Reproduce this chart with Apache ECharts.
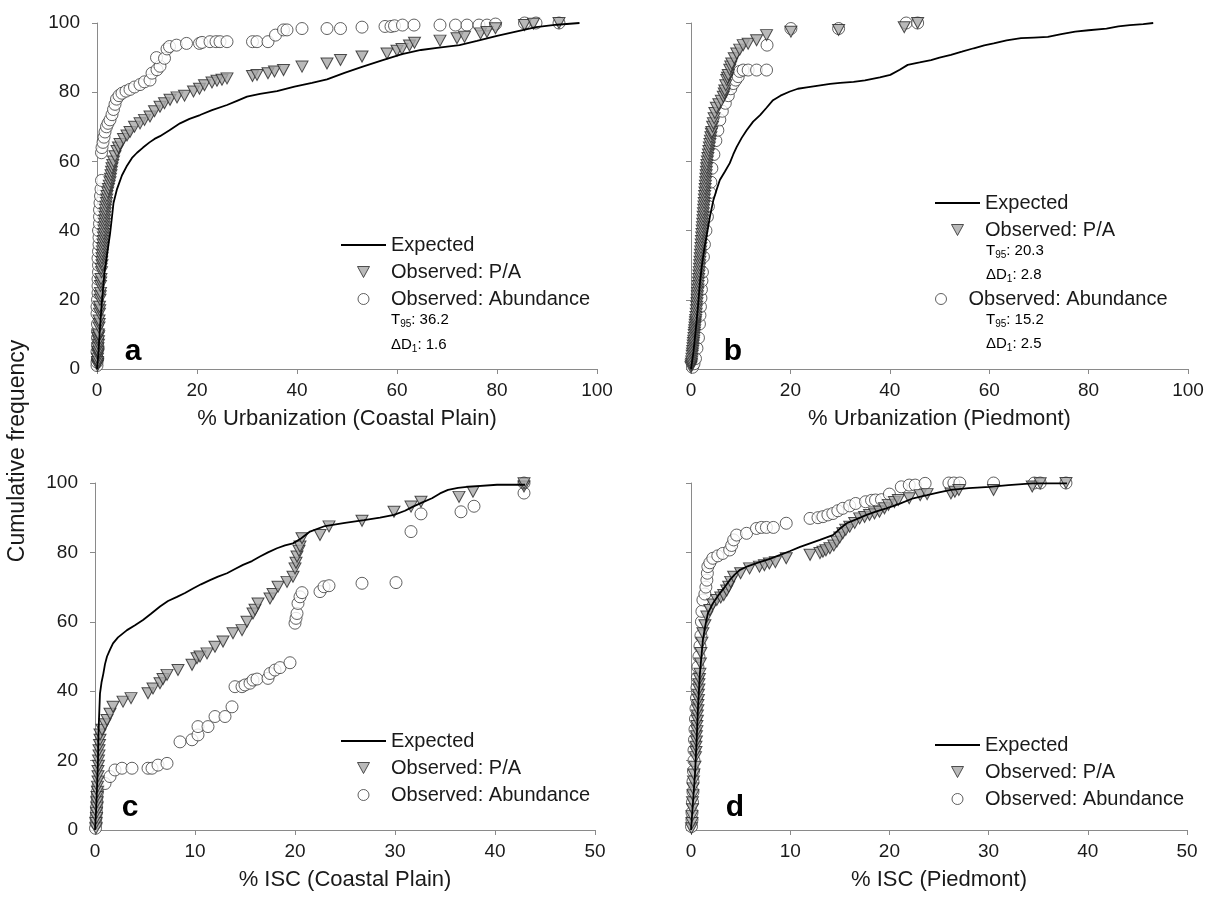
<!DOCTYPE html>
<html>
<head>
<meta charset="utf-8">
<script src="https://cdn.jsdelivr.net/npm/echarts@6/dist/echarts.min.js"></script>
<style>
  html, body { margin: 0; padding: 0; background: #fff; }
  #chart { width: 1211px; height: 902px; }
</style>
</head>
<body>
<div id="chart"></div>
<script>
// panel a: % Urbanization (Coastal Plain)
const expectedA = [[0,0],[0.3,5],[0.6,12],[0.9,18],[1.2,23],[1.5,28],[1.9,32],[2.3,36],[2.6,39],[3.0,44],[3.3,48],[4,52],[5,56],[5.9,58.5],[7,61],[8,62.5],[9.2,64],[10.5,65.5],[11.5,66.5],[12.6,67.3],[14.5,69],[16.6,71],[18.5,72.3],[20.6,73.4],[23,74.8],[26,76.3],[28,77.5],[30,78.7],[32.6,79.5],[36,80.3],[39.5,81.6],[43,82.7],[46,83.7],[49.5,85.6],[53,87.3],[57,89.2],[61,91],[64.8,92.2],[68,92.8],[72.5,93.6],[76,94.8],[80,96.3],[84,97.6],[87.8,98.8],[92,99.5],[96.5,100]];
const paA = [[0.1,1],[0.15,1.5],[0.1,2],[0.1,3],[0.2,4],[0.25,4.5],[0.2,5],[0.2,6],[0.3,7],[0.3,8],[0.2,9],[0.35,9.5],[0.3,10],[0.4,12],[0.45,13],[0.4,14],[0.5,16],[0.55,17],[0.5,18],[0.6,20],[0.65,21],[0.7,22],[0.7,24],[0.75,25],[0.8,26],[0.9,28],[0.85,29],[1.0,30],[0.95,31],[1.0,32],[1.05,33],[1.1,34],[1.15,35],[1.2,36],[1.25,37],[1.3,38],[1.35,39],[1.4,40],[1.45,41],[1.5,42],[1.55,43],[1.6,44],[1.65,45],[1.7,46],[1.8,47],[1.9,48],[1.95,49],[2.0,50],[2.15,51],[2.3,52],[2.45,53],[2.6,54],[2.7,55],[2.8,56],[2.9,57],[3.0,58],[3.15,59],[3.3,60],[3.6,61.5],[4.0,63],[4.3,64],[4.6,65],[5.3,66.5],[6.0,67.5],[6.6,68.5],[7.5,70],[8.6,71],[9.5,72],[10.6,73],[11.5,74.5],[12.6,75.8],[13.5,76.8],[14.6,77.8],[16,78.5],[17.5,79],[19.3,80.2],[20.5,81],[21.5,82],[23,82.8],[24,83.3],[25,83.6],[26,84],[31.1,84.7],[32,85],[34.2,85.5],[35.5,86],[37.3,86.4],[41,87.4],[46,88.3],[48.7,89.3],[53,90.3],[58,91.2],[60,92],[61,92.5],[62.5,93.5],[63.5,94.3],[68.6,94.9],[72,95.6],[73.5,96],[76.7,97],[78,97.4],[79.7,98.5],[85.5,99.4],[87.3,99.8],[92.4,100]];
const abA = [[0,1],[0,2],[0.1,3],[0,5],[0.1,7],[0.1,9],[0.1,11],[0.1,13],[0,16],[0,18],[0.1,20],[0.2,22],[0.2,24],[0.2,26],[0.3,28],[0.3,30],[0.2,32],[0.3,34],[0.4,36],[0.4,38],[0.3,40],[0.5,42],[0.5,44],[0.5,46],[0.6,48],[0.7,50],[0.8,52],[0.9,54.5],[0.9,62.5],[1.0,64],[1.2,65.5],[1.4,67],[1.6,68.5],[1.9,70],[2.2,71],[2.6,72],[3.0,73.5],[3.3,75],[3.6,76.5],[3.9,78],[4.4,79],[5.0,79.7],[5.8,80.3],[6.6,80.8],[7.5,81.5],[8.6,82.2],[9.5,83],[10.6,83.5],[11,85.5],[12,86.5],[12.6,87.5],[11.9,90],[13.5,89.8],[14,92.5],[14.5,93.2],[15.9,93.6],[17.9,94.1],[20.5,94.1],[21,94.4],[22.6,94.6],[23.8,94.6],[24.6,94.6],[26,94.6],[31.1,94.6],[32,94.6],[34.2,94.6],[35.7,96.5],[37.3,98],[38,98],[41,98.4],[46,98.4],[48.7,98.4],[53,98.8],[57.6,99],[58.8,99],[59.5,99.2],[61.1,99.4],[63.4,99.4],[68.6,99.4],[71.7,99.4],[74,99.4],[76.4,99.4],[78,99.4],[79.7,99.7],[85.5,100],[87.8,100],[92.4,100]];

// panel b: % Urbanization (Piedmont)
const expectedB = [[0,0],[0.5,5],[1,12],[1.4,18],[1.8,25],[2.2,30],[2.7,35],[3.2,39],[3.8,44],[4.5,48.8],[5.2,52],[5.8,54.6],[6.8,57],[7.8,59.5],[8.5,62],[9.2,64.2],[10.2,66.8],[11.2,69],[12.5,71.5],[13.9,73.4],[15.2,75.5],[16.5,77.7],[18,79],[19.9,80.2],[21.5,81],[23.3,81.4],[26,82],[28,82.4],[30,82.7],[32.7,83],[35,83.4],[38,84.3],[40.1,85],[42,86.5],[43.6,87.9],[46,88.6],[48.3,89.3],[50,90],[52.3,90.8],[54.5,91.7],[56.9,92.7],[59,93.5],[60.9,94.1],[63.5,95],[66.4,95.6],[69,95.8],[71.8,96],[74.5,96.8],[77.3,97.5],[80,97.9],[83.6,98.4],[86,99],[88.3,99.4],[91,99.7],[93,100]];
const paB = [[0,0.5],[0.05,1],[0.1,1.5],[0.15,2.2],[0.2,3],[0.25,3.8],[0.3,4.5],[0.35,5.2],[0.4,6],[0.45,6.8],[0.5,7.5],[0.55,8.2],[0.6,9],[0.65,9.8],[0.7,10.5],[0.75,11.2],[0.8,12],[0.85,12.8],[0.9,13.5],[0.95,14.2],[1.0,15],[1.05,16],[1.1,17],[1.15,18],[1.2,19],[1.25,20],[1.3,21],[1.35,22],[1.4,23],[1.45,24],[1.5,25],[1.55,26],[1.6,27],[1.65,28],[1.7,29],[1.75,30],[1.8,31],[1.85,32],[1.9,33],[1.95,34],[2.0,35],[2.05,36],[2.1,37],[2.15,38],[2.2,39],[2.25,40],[2.3,41],[2.35,42],[2.4,43],[2.45,44],[2.5,45],[2.55,46],[2.6,47],[2.65,48],[2.7,49],[2.75,50],[2.8,51],[2.85,52],[2.9,53],[2.95,54],[3.0,55],[3.05,56],[3.1,57],[3.15,58],[3.2,59],[3.3,60],[3.4,61],[3.5,62],[3.6,63],[3.7,64],[3.8,65],[3.9,66],[4.0,67],[4.1,68],[4.2,68.5],[4.35,70],[4.5,71],[4.65,72.5],[4.8,74],[5.1,75.5],[5.6,76.5],[6.1,77.5],[6.5,78.7],[6.7,79.6],[6.8,80.5],[7.0,82],[7.2,83.5],[7.35,84.2],[7.5,85],[7.8,86.5],[8.0,87.4],[8.2,88.3],[8.7,89.8],[9.2,91.2],[9.8,92.3],[10.5,93.6],[11.5,94],[13.2,95],[15.2,96.5],[20.1,97.5],[29.7,98],[42.9,98.8],[45.6,100]];
const abB = [[0.3,0.5],[0.6,1.5],[0.9,3],[1.2,6],[1.5,9],[1.7,13],[1.8,15.5],[1.9,18],[2.0,20.5],[2.1,23],[2.2,25.5],[2.3,28],[2.5,32.4],[2.7,36],[3.0,40],[3.3,44],[3.5,47],[3.8,51],[4.0,54],[4.2,58],[4.6,62],[5.0,66],[5.4,69],[5.8,72],[6.3,74.5],[6.9,76.8],[7.5,79],[8.0,81],[8.5,82.5],[9.0,83.5],[9.5,84.5],[9.8,86],[10.5,86.4],[11.5,86.4],[13.2,86.4],[15.2,86.4],[15.3,93.6],[20.1,98.4],[29.7,98.4],[43.3,100],[45.6,100]];

// panel c: % ISC (Coastal Plain)
const expectedC = [[0,0],[0.1,5],[0.2,12],[0.3,20],[0.33,26],[0.4,32],[0.5,39.4],[0.65,42.5],[0.83,45],[1.0,47.8],[1.2,50],[1.5,52],[1.8,53.8],[2.3,55.5],[3.2,57.6],[4,59],[4.8,60.5],[5.6,62.3],[6.5,64.4],[7.3,66],[8.2,67.2],[9,68.3],[9.8,69.6],[10.6,70.8],[11.5,72],[12.3,73],[13.2,74],[14,75.2],[14.8,76.4],[15.7,77.5],[16.5,78.8],[17.3,80],[18.2,81.2],[19,82],[19.8,82.6],[20.6,84],[21.5,86],[23,87.6],[25,88.5],[26.9,89.3],[28.5,90],[29.9,90.8],[31,92],[31.8,93.2],[32.8,94.5],[33.7,95.6],[34.5,97],[35.3,98],[36.3,98.6],[37.2,98.9],[40.2,99.5],[43,99.5]];
const paC = [[0.1,0.5],[0.1,2],[0.15,3.5],[0.15,5],[0.2,6.5],[0.2,8],[0.2,9.5],[0.25,11],[0.25,12.5],[0.3,14],[0.3,15.5],[0.3,17],[0.35,18.5],[0.35,20],[0.4,21.5],[0.4,23],[0.45,24.5],[0.5,26],[0.5,27.5],[0.7,28.9],[1.0,30.5],[1.2,31.7],[1.5,33.5],[1.8,35.5],[2.8,37],[3.6,38],[5.3,39.4],[5.8,40.8],[6.5,42.3],[6.8,43.5],[7.2,44.7],[8.3,46.1],[9.7,47.6],[10.2,49.5],[10.5,50],[11.2,50.9],[12,52.8],[12.8,54.3],[13.8,56.7],[14.7,57.6],[15.2,60],[15.8,62.4],[16.0,63.5],[16.3,65.3],[17.5,66.7],[17.8,68],[18.3,70.1],[19.2,71.5],[19.8,73],[20,75.4],[20.1,77],[20.2,78.8],[20.4,80.5],[20.5,81.7],[20.7,84.1],[22.5,85],[23.4,87.5],[26.7,89.1],[29.9,91.7],[31.6,93.2],[32.6,94.6],[36.4,96],[37.8,97.5],[42.9,99],[42.9,99.9]];
const abC = [[0.05,0.5],[0.1,2],[0.1,3.5],[0.15,5],[0.15,6.5],[0.2,8],[0.2,9.5],[0.25,11],[0.3,12.5],[1,13.4],[1.5,15.4],[2,17.3],[2.7,17.8],[3.7,17.8],[5.3,17.8],[5.7,17.8],[6.3,18.7],[7.2,19.2],[8.5,25.4],[9.7,26],[10.3,27.4],[10.3,29.8],[11.3,29.8],[12,32.7],[13,32.7],[13.7,35.5],[14,41.3],[14.7,41.3],[15,41.8],[15.5,42.3],[15.8,43.2],[16.2,43.5],[17.3,43.7],[17.5,45.1],[18,46.1],[18.5,46.8],[19.5,48.2],[20,59.6],[20.1,61],[20.2,62.4],[20.3,65.3],[20.5,67.2],[20.7,68.4],[22.5,68.7],[22.9,70.1],[23.4,70.4],[26.7,71.1],[30.1,71.3],[31.6,86],[32.6,91.1],[36.6,91.7],[37.9,93.3],[42.9,97.1],[42.9,100]];

// panel d: % ISC (Piedmont)
const expectedD = [[0,0],[0.2,8],[0.4,16],[0.57,25.9],[0.7,35],[0.9,45.2],[1.05,50],[1.2,54.8],[1.45,59],[1.7,62.4],[2.2,65.3],[2.9,68.2],[3.4,70],[3.9,72],[4.4,73.6],[4.9,74.9],[5.7,76],[6.6,76.9],[7.8,78],[9,79.3],[10,80.4],[11,81.6],[12,82.6],[13,83.6],[14.3,85],[15,86.8],[15.7,88.4],[16.7,89.6],[17.7,90.8],[18.7,91.8],[19.7,92.7],[21,94],[22.4,95.6],[23.8,96.5],[25,97.3],[26.2,98],[28,98.5],[30.1,98.9],[32,99.4],[34.4,99.9],[37.9,99.9]];
const paD = [[0.05,0.5],[0.1,2],[0.1,4],[0.15,6],[0.15,8],[0.2,10],[0.2,12],[0.25,14],[0.3,16],[0.4,18.2],[0.45,21],[0.5,22.5],[0.5,24],[0.55,25.5],[0.55,27],[0.6,28.5],[0.6,30],[0.65,31.5],[0.65,33],[0.7,34.5],[0.7,36],[0.75,37.5],[0.75,39],[0.8,40.5],[0.8,42],[0.85,43.5],[0.9,45],[0.95,48],[1.0,51],[1.1,54],[1.2,56.7],[1.4,59],[1.6,61.5],[1.9,63.4],[2.2,65],[2.6,66.3],[3.0,67],[3.3,67.7],[3.6,69],[3.8,70.1],[4.0,71.5],[4.3,73],[5,74],[5.9,75.4],[6.9,75.9],[7.4,76.3],[7.9,76.8],[8.5,77.2],[9.6,78.3],[12,79.3],[13,79.8],[13.3,80.2],[13.6,80.6],[14,81.2],[14.4,82],[14.7,83.1],[15,84.3],[15.3,85.5],[15.6,86.5],[16,87.4],[16.5,88.5],[17,89.8],[17.5,90.2],[18,90.8],[18.5,91.2],[19,91.7],[19.5,92.7],[19.9,93.7],[20.5,94.5],[20.9,95.1],[22,95.6],[23.1,96.5],[23.8,96.8],[26.2,97],[26.6,97.5],[27,98],[30.5,98],[34.4,99],[35.2,99.9],[37.8,100]];
const abD = [[0.05,1],[0.1,3],[0.1,5],[0.15,8],[0.2,11],[0.2,14],[0.25,17],[0.3,20],[0.3,23],[0.35,26],[0.4,29],[0.45,32],[0.5,35],[0.55,38],[0.6,41],[0.65,44],[0.7,47],[0.8,50],[0.9,53],[1.0,56],[1.05,60],[1.1,63],[1.2,66.3],[1.4,68],[1.5,70],[1.6,72],[1.65,74],[1.7,75.9],[1.9,77],[2.2,78.3],[2.7,79],[3.2,79.7],[3.9,80.7],[4.1,82],[4.3,83.6],[4.6,85],[5.6,85.5],[6.6,86.9],[7.1,87.2],[7.6,87.2],[8.3,87.2],[9.6,88.4],[12,89.8],[12.8,90],[13.3,90.3],[13.8,90.8],[14.3,91.2],[14.8,92],[15.3,92.7],[16,93.4],[16.6,94.1],[17.6,94.6],[18.2,95],[18.6,95.1],[19.2,95.2],[20,96.8],[21.2,98.9],[22,99.4],[22.6,99.4],[23.6,99.9],[26,100],[26.5,100],[27.1,100],[30.5,100],[34.6,100],[35.2,100],[37.8,100]];

const xTitles = ['% Urbanization (Coastal Plain)', '% Urbanization (Piedmont)', '% ISC (Coastal Plain)', '% ISC (Piedmont)'];
const xMax = [100, 100, 50, 50];
const xStep = [20, 20, 10, 10];
const panelLetters = ['a', 'b', 'c', 'd'];
const seriesNames = ['Expected', 'Observed: P/A', 'Observed: Abundance'];

const panels = [
  { expected: expectedA, pa: paA, ab: abA },
  { expected: expectedB, pa: paB, ab: abB },
  { expected: expectedC, pa: paC, ab: abC },
  { expected: expectedD, pa: paD, ab: abD }
];

const FONT = 'Liberation Sans, Arial, sans-serif';
const TXT = '#1a1a1a';
const AX = '#8a8a8a';

const grids = [
  { left: 97, top: 23, width: 500, height: 346 },
  { left: 691, top: 23, width: 497, height: 346 },
  { left: 95, top: 483, width: 500, height: 347 },
  { left: 691, top: 483, width: 496, height: 347 }
];

let xAxes = [], yAxes = [], series = [];
panels.forEach((p, i) => {
  xAxes.push({
    gridIndex: i, type: 'value', min: 0, max: xMax[i], interval: xStep[i],
    name: xTitles[i], nameLocation: 'middle', nameGap: 39,
    nameTextStyle: { fontSize: 22, color: TXT, fontFamily: FONT },
    axisLine: { show: true, onZero: false, lineStyle: { color: AX, width: 1 } },
    axisTick: { show: true, length: 5, lineStyle: { color: AX } },
    axisLabel: { fontSize: 19, color: TXT, margin: 12, fontFamily: FONT },
    splitLine: { show: false }
  });
  yAxes.push({
    gridIndex: i, type: 'value', min: 0, max: 100, interval: 20,
    axisLine: { show: true, onZero: false, lineStyle: { color: AX, width: 1 } },
    axisTick: { show: true, length: 5, lineStyle: { color: AX } },
    axisLabel: { show: i % 2 === 0, fontSize: 19, color: TXT, margin: 17, fontFamily: FONT },
    splitLine: { show: false }
  });
  series.push({
    name: seriesNames[2], type: 'scatter', xAxisIndex: i, yAxisIndex: i, z: 2,
    symbol: 'circle', symbolSize: 12, data: p.ab,
    itemStyle: { color: '#ffffff', borderColor: '#3a3a3a', borderWidth: 1 }
  });
  series.push({
    name: seriesNames[1], type: 'scatter', xAxisIndex: i, yAxisIndex: i, z: 3,
    symbol: 'triangle', symbolRotate: 180, symbolSize: [12, 11], data: p.pa,
    itemStyle: { color: '#a8a8a8', borderColor: '#242424', borderWidth: 1 }
  });
  series.push({
    name: seriesNames[0], type: 'line', xAxisIndex: i, yAxisIndex: i, z: 4,
    symbol: 'none', showSymbol: false, data: p.expected,
    itemStyle: { color: '#000' },
    lineStyle: { color: '#000', width: 1.8 }
  });
});

// legend icons: plain line, down-pointing triangle, circle
const legendIcons = {
  'Expected': { icon: 'path://M0,0 L45,0 L45,2 L0,2 Z', itemStyle: { color: '#000', borderWidth: 0 } },
  'Observed: P/A': { icon: 'path://M0,0 L12,0 L6,11 Z', itemStyle: { color: '#a8a8a8', borderColor: '#2a2a2a', borderWidth: 1 } },
  'Observed: Abundance': { icon: 'circle', itemStyle: { color: '#ffffff', borderColor: '#3a3a3a', borderWidth: 1 } }
};
function legendAt(left, top, names) {
  return {
    left: left, top: top, orient: 'vertical', itemGap: 7,
    itemWidth: 45, itemHeight: 11, selectedMode: false, symbolKeepAspect: true,
    data: names.map(n => Object.assign({ name: n }, legendIcons[n])),
    textStyle: { fontSize: 20, color: TXT, fontFamily: FONT }
  };
}

const subRich = {
  n: { fontSize: 15, color: '#333', fontFamily: FONT, lineHeight: 20, verticalAlign: 'middle' },
  s: { fontSize: 10, color: '#333', fontFamily: FONT, lineHeight: 20, verticalAlign: 'bottom' }
};
function statText(x, y, label, sub, val) {
  return {
    type: 'text', left: x, top: y - 10,
    style: { text: '{n|' + label + '}{s|' + sub + '}{n|: ' + val + '}', rich: subRich }
  };
}

const letterPos = [[133, 352], [733, 352], [130, 808], [735, 808]];
const graphics = [
  {
    type: 'text', x: 18, y: 451, rotation: Math.PI / 2,
    style: { text: 'Cumulative frequency', fontSize: 23, fill: TXT, fontFamily: FONT, align: 'center', verticalAlign: 'middle' }
  },
  statText(391, 322, 'T', '95', '36.2'),
  statText(391, 347, 'ΔD', '1', '1.6'),
  statText(986, 253, 'T', '95', '20.3'),
  statText(986, 277, 'ΔD', '1', '2.8'),
  statText(986, 322, 'T', '95', '15.2'),
  statText(986, 346, 'ΔD', '1', '2.5')
];
panelLetters.forEach((l, i) => {
  graphics.push({
    type: 'text', x: letterPos[i][0], y: letterPos[i][1],
    style: { text: l, fontSize: 30, fontWeight: 'bold', fill: '#000', fontFamily: FONT, align: 'center', verticalAlign: 'middle' }
  });
});

const chart = echarts.init(document.getElementById('chart'), null, { renderer: 'canvas' });
chart.setOption({
  animation: false,
  backgroundColor: '#fff',
  grid: grids,
  xAxis: xAxes,
  yAxis: yAxes,
  legend: [
    legendAt(336, 230, seriesNames),
    legendAt(930, 188, [seriesNames[0], seriesNames[1]]),
    legendAt(930, 284, [seriesNames[2]]),
    legendAt(336, 726, seriesNames),
    legendAt(930, 730, seriesNames)
  ],
  graphic: graphics,
  series: series
});
</script>
</body>
</html>
